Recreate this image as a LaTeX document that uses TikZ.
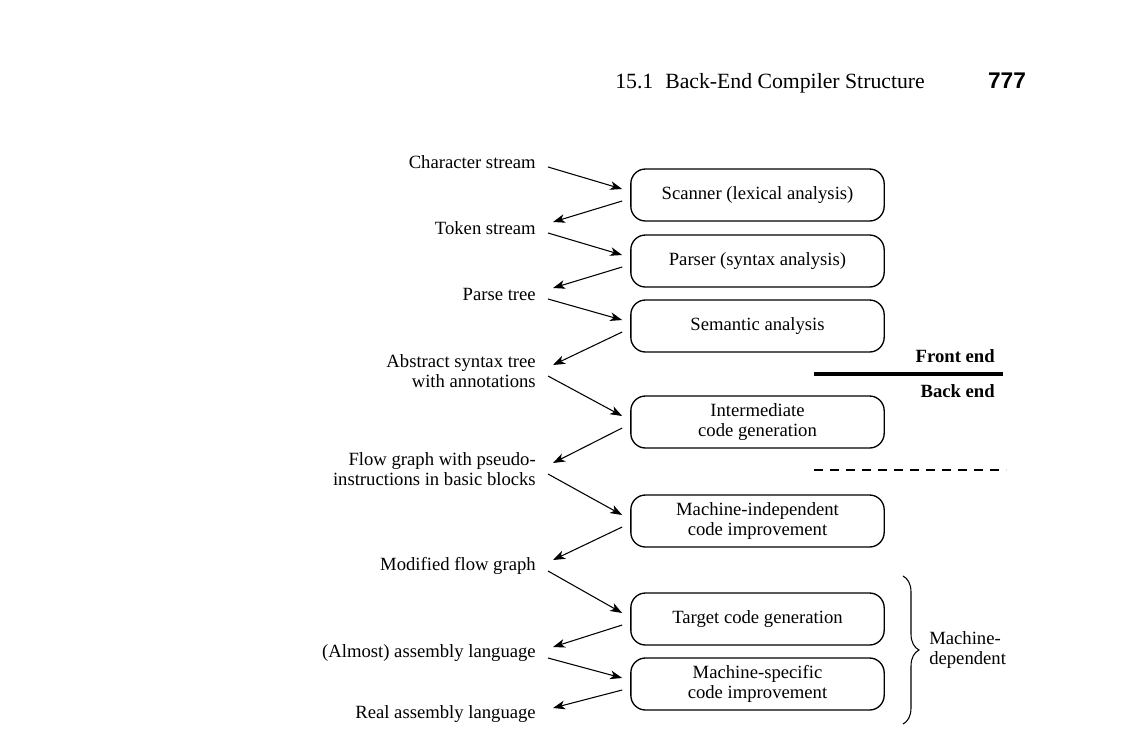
\documentclass[tikz,border=0pt]{standalone}
\usepackage{fontspec}
\setmainfont{Liberation Serif}
\newfontfamily\foliofont{Liberation Sans}
\usetikzlibrary{arrows.meta,decorations.pathreplacing}

\begin{document}
\begin{tikzpicture}[
    x=0.75pt, y=-0.75pt,
    font=\fontsize{14}{15.5}\selectfont,
    stage/.style={draw, line width=1pt, rounded corners=11pt,
      minimum width=190pt, minimum height=39pt, align=center, inner sep=2pt},
    lbl/.style={anchor=east, align=right, inner sep=0pt},
    flow/.style={-{Stealth[length=9pt,width=6.5pt,inset=2.5pt]}, line width=0.8pt}
  ]
  \useasboundingbox (0,0) rectangle (1128,740);

  % running head
  \node[anchor=west, inner sep=0pt, font=\fontsize{16.3}{18}\selectfont] (head) at (615,83)
    {15.1\hspace{0.55em}Back-End Compiler Structure};
  \node[font=\foliofont\bfseries\fontsize{17}{19}\selectfont] (folio) at (1007,81) {777};

  % phases
  \node[stage] (scan)  at (757.5,195) {Scanner (lexical analysis)};
  \node[stage] (parse) at (757.5,261) {Parser (syntax analysis)};
  \node[stage] (sema)  at (757.5,326) {Semantic analysis};
  \node[stage] (icg)   at (757.5,422) {Intermediate\\code generation};
  \node[stage] (mind)  at (757.5,521) {Machine-independent\\code improvement};
  \node[stage] (tcg)   at (757.5,619) {Target code generation};
  \node[stage] (mspec) at (757.5,684) {Machine-specific\\code improvement};

  % forms of the program
  \node[lbl] (chars)  at (536,162) {Character stream};
  \node[lbl] (tokens) at (536,228) {Token stream};
  \node[lbl] (ptree)  at (536,294) {Parse tree};
  \node[lbl] (ast)    at (536,371) {Abstract syntax tree\\with annotations};
  \node[lbl] (fgraph) at (536,469) {Flow graph with pseudo-\\instructions in basic blocks};
  \node[lbl] (mgraph) at (536,566) {Modified flow graph};
  \node[lbl] (almost) at (536,653) {(Almost) assembly language};
  \node[lbl] (real)   at (536,714) {Real assembly language};

  \foreach \a/\b/\c in {chars/scan/tokens, tokens/parse/ptree, ptree/sema/ast,
      ast/icg/fgraph, fgraph/mind/mgraph, mgraph/tcg/almost, almost/mspec/real}{
    \draw[flow] ([shift={(12,5)}]\a.east) -- ([shift={(-8,-6)}]\b.west);
    \draw[flow] ([shift={(-8,6)}]\b.west) -- ([shift={(17,-6)}]\c.east);
  }

  % front end / back end split
  \draw[line width=3pt] (814,374) -- (1003,374);
  \node[anchor=east, inner sep=0pt, font=\bfseries\fontsize{14}{16}\selectfont] (front) at (995,356) {Front end};
  \node[anchor=east, inner sep=0pt, font=\bfseries\fontsize{14}{16}\selectfont] (back) at (995,391) {Back end};
  \draw[line width=0.9pt, dash pattern=on 7pt off 5pt] (814,470) -- (1006,470);

  % machine-dependent part
  \draw[line width=0.8pt, decorate, decoration={brace, amplitude=12pt}] (903,576) -- (903,724);
  \node[anchor=west, align=left, inner sep=0pt] (mdep) at (929,650) {Machine-\\dependent};
\end{tikzpicture}
\end{document}
